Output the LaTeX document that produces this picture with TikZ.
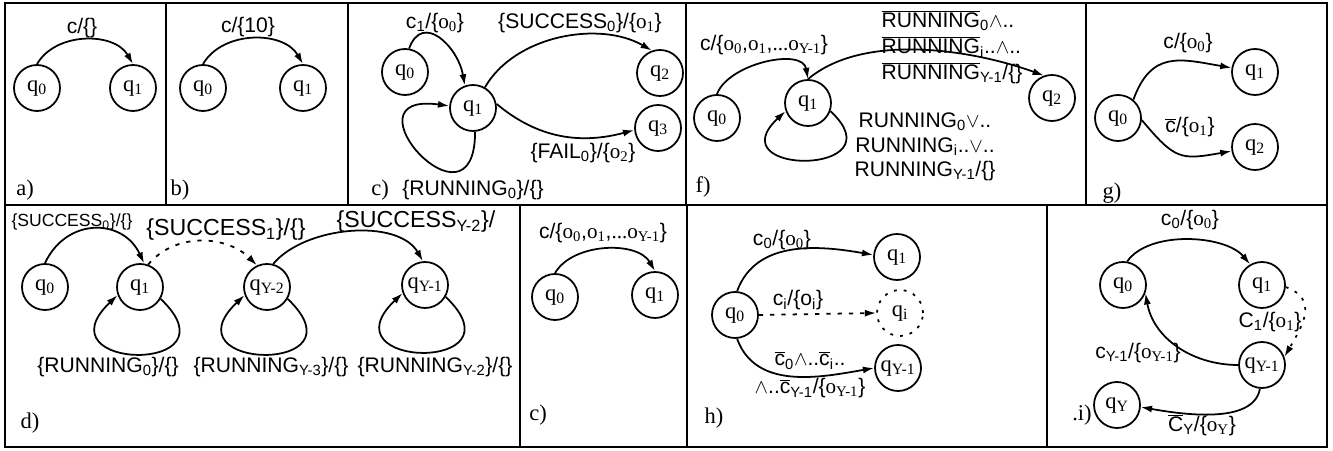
\documentclass[tikz,border=0pt]{standalone}
\usepackage{fontspec}
\setmainfont{Liberation Serif}
\setsansfont{Liberation Sans}
\usetikzlibrary{arrows, arrows.meta}
\tikzstyle{qstate} = [circle, draw, line width=1.25pt, minimum size=1.15cm, inner sep=0pt, font=\fontsize{16}{18}\selectfont]
\tikzstyle{arrow} = [line width=1.25pt,->,>={Latex[length=8pt,width=5pt]}]
\tikzstyle{lbl} = [font=\sffamily\fontsize{15}{18}\selectfont, inner sep=1pt]
\tikzstyle{small} = [font=\sffamily\fontsize{12.5}{15}\selectfont, inner sep=1pt]
\tikzstyle{big} = [font=\sffamily\fontsize{16.5}{18}\selectfont, inner sep=1pt]
\tikzstyle{tag} = [font=\fontsize{16}{18}\selectfont, inner sep=0pt]
\tikzstyle{frame} = [line width=1.8pt]
\tikzstyle{divider} = [line width=0.9pt]
\tikzstyle{dashedline} = [dash pattern=on 3pt off 5pt]
\tikzstyle{dottedline} = [dash pattern=on 2pt off 5pt]
\newcommand{\sub}[1]{\textsubscript{#1}}
\newcommand{\osub}[1]{{\rmfamily o\sub{#1}}}
\newcommand{\nbar}[1]{$\overline{\mbox{#1}}$}

\begin{document}
\begin{tikzpicture}[x=0.025cm, y=0.025cm]
    \useasboundingbox (0,0) rectangle (1333,451);
    % frame
    \draw [frame] (5,4) rectangle (1327,448);
    \draw [divider] (5,246) -- (1327,246);
    \foreach \x in {166,348,686,1086} \draw [divider] (\x,246) -- (\x,448);
    \foreach \x in {520,687,1047} \draw [divider] (\x,4) -- (\x,246);

    % a)
    \node [qstate] at (37,363) (a0) {q\sub{0}};
    \node [qstate] at (133,363) (a1) {q\sub{1}};
    \node [lbl] at (82,423) (la) {c/\{\}};
    \node [tag] at (25,261) (ta) {a)};
    \draw [arrow] (a0.north) to[out=60,in=120] (a1.north);

    % b)
    \node [qstate] at (203,363) (b0) {q\sub{0}};
    \node [qstate] at (303,363) (b1) {q\sub{1}};
    \node [lbl] at (248,424) (lb) {c/\{10\}};
    \node [tag] at (180,261) (tb) {b)};
    \draw [arrow] (b0.north) to[out=60,in=120] (b1.north);

    % c)
    \node [qstate] at (405,379) (c0) {q\sub{0}};
    \node [qstate] at (473,343) (c1) {q\sub{1}};
    \node [qstate] at (660,378) (c2) {q\sub{2}};
    \node [qstate] at (658,323) (c3) {q\sub{3}};
    \node [lbl] at (435,428) (lc01) {c\sub{1}/\{\osub{0}\}};
    \node [lbl] at (580,428) (lc12) {\{SUCCESS\sub{0}\}/\{\osub{1}\}};
    \node [lbl] at (583,298) (lc13) {\{FAIL\sub{0}\}/\{\osub{2}\}};
    \node [lbl] at (473,261) (lc11) {\{RUNNING\sub{0}\}/\{\}};
    \node [tag] at (380,261) (tc) {c)};
    \draw [arrow] (c0.80) to[out=70,in=100,looseness=1.5] (c1.110);
    \draw [arrow] (c1.60) to[out=60,in=150,looseness=0.9] (c2.110);
    \draw [arrow] (c1.10) to[out=-40,in=195] (c3.185);
    \draw [arrow] (c1.275) .. controls +(0,-110) and +(-110,15) .. (c1.175);

    % f)
    \node [qstate] at (717,333) (f0) {q\sub{0}};
    \node [qstate] at (808,348) (f1) {q\sub{1}};
    \node [qstate] at (1052,353) (f2) {q\sub{2}};
    \node [lbl] at (764,406) (lf01) {c/\{\osub{0},\osub{1},{\rmfamily ...}\osub{Y-1}\}};
    \node [lbl, anchor=west, align=left, font=\sffamily\fontsize{15}{18.5}\selectfont] at (880,404) (lf12)
        {\nbar{RUNNING}\sub{0}$\wedge$..\\ \nbar{RUNNING}\sub{i}..$\wedge$..\\ \nbar{RUNNING}\sub{Y-1}/\{\}};
    \node [lbl, align=center, font=\sffamily\fontsize{15}{17.5}\selectfont] at (925,304) (lf11)
        {RUNNING\sub{0}$\vee$..\\ RUNNING\sub{i}..$\vee$..\\ RUNNING\sub{Y-1}/\{\}};
    \node [tag] at (703,264) (tf) {f)};
    \draw [arrow] (f0.north) to[out=70,in=100,looseness=0.9] (f1.north);
    \draw [arrow] (f1.north) to[out=40,in=160,looseness=0.8] (f2.110);
    \draw [arrow] (f1.-20) .. controls +(70,-65) and +(-70,-65) .. (f1.200);

    % g)
    \node [qstate] at (1118,333) (g0) {q\sub{0}};
    \node [qstate] at (1255,379) (g1) {q\sub{1}};
    \node [qstate] at (1255,304) (g2) {q\sub{2}};
    \node [lbl] at (1188,408) (lg01) {c/\{\osub{0}\}};
    \node [lbl] at (1190,324) (lg02) {\nbar{c}/\{\osub{1}\}};
    \node [tag] at (1112,258) (tg) {g)};
    \draw [arrow] (g0.50) to[out=70,in=170,looseness=1.3] (g1.170);
    \draw [arrow] (g0.-5) to[out=-50,in=190,looseness=1.4] (g2.190);

    % d)
    \node [qstate] at (45,164) (d0) {q\sub{0}};
    \node [qstate] at (140,164) (d1) {q\sub{1}};
    \node [qstate] at (267,164) (dY2) {q\sub{Y-2}};
    \node [qstate] at (425,166) (dY1) {q\sub{Y-1}};
    \node [small] at (72,229) (ld01) {\{SUCCESS\sub{0}\}/\{\}};
    \node [big] at (226,221) (ld12) {\{SUCCESS\sub{1}\}/\{\}};
    \node [big] at (416,229) (ld23) {\{SUCCESS\sub{Y-2}\}/};
    \node [lbl] at (108,84) (ld11) {\{RUNNING\sub{0}\}/\{\}};
    \node [lbl] at (271,84) (ld22) {\{RUNNING\sub{Y-3}\}/\{\}};
    \node [lbl] at (435,84) (ld33) {\{RUNNING\sub{Y-2}\}/\{\}};
    \node [tag] at (30,28) (td) {d)};
    \draw [arrow] (d0.north) to[out=65,in=115,looseness=1.3] (d1.80);
    \draw [arrow, dashedline] (d1.70) to[out=50,in=135] (dY2.115);
    \draw [arrow] (dY2.75) to[out=50,in=120,looseness=0.85] (dY1.95);
    \foreach \n in {d1,dY2,dY1}
        \draw [arrow] (\n.-30) .. controls +(80,-76) and +(-80,-76) .. (\n.200);

    % e)
    \node [qstate] at (555,154) (e0) {q\sub{0}};
    \node [qstate] at (655,156) (e1) {q\sub{1}};
    \node [lbl] at (603,218) (le01) {c/\{\osub{0},\osub{1},{\rmfamily ...}\osub{Y-1}\}};
    \node [tag] at (538,36) (te) {c)};
    \draw [arrow] (e0.north) to[out=60,in=120,looseness=0.9] (e1.north);

    % h)
    \node [qstate] at (735,136) (h0) {q\sub{0}};
    \node [qstate] at (897,194) (h1) {q\sub{1}};
    \node [qstate, dottedline] at (900,138) (hi) {q\sub{i}};
    \node [qstate] at (898,83) (hY1) {q\sub{Y-1}};
    \node [lbl] at (782,211) (lh01) {c\sub{0}/\{\osub{0}\}};
    \node [lbl] at (798,151) (lh0i) {c\sub{i}/\{o\sub{i}\}};
    \node [lbl, align=center] at (810,76) (lh0Y)
        {\nbar{c}\sub{0}$\wedge$..\nbar{c}\sub{i}..\\[2pt] $\wedge$..\nbar{c}\sub{Y-1}/\{\osub{Y-1}\}};
    \node [tag] at (714,33) (th) {h)};
    \draw [arrow] (h0.85) to[out=70,in=170] (h1.175);
    \draw [arrow, dashedline] (h0.east) -- (hi.west);
    \draw [arrow] (h0.275) to[out=-70,in=190] (hY1.west);

    % i)
    \node [qstate] at (1123,166) (i0) {q\sub{0}};
    \node [qstate] at (1262,166) (i1) {q\sub{1}};
    \node [qstate] at (1262,86) (iY1) {q\sub{Y-1}};
    \node [qstate] at (1117,46) (iY) {q\sub{Y}};
    \node [lbl] at (1190,231) (li01) {c\sub{0}/\{\osub{0}\}};
    \node [lbl] at (1270,129) (li1Y) {C\sub{1}/\{\osub{1}\}};
    \node [lbl] at (1138,98) (liY0) {c\sub{Y-1}/\{\osub{Y-1}\}};
    \node [lbl] at (1202,26) (liYY) {\nbar{C}\sub{Y}/\{\osub{Y}\}};
    \node [tag] at (1082,36) (ti) {.i)};
    \draw [arrow] (i0.80) to[out=55,in=130,looseness=0.8] (i1.120);
    \draw [arrow, dottedline] (i1.-5) to[out=-20,in=60,looseness=1.3] (iY1.20);
    \draw [arrow] (iY1.180) to[out=180,in=-80] (i0.-20);
    \draw [arrow] (iY1.265) to[out=-100,in=-10,looseness=0.8] (iY.-5);
\end{tikzpicture}
\end{document}
